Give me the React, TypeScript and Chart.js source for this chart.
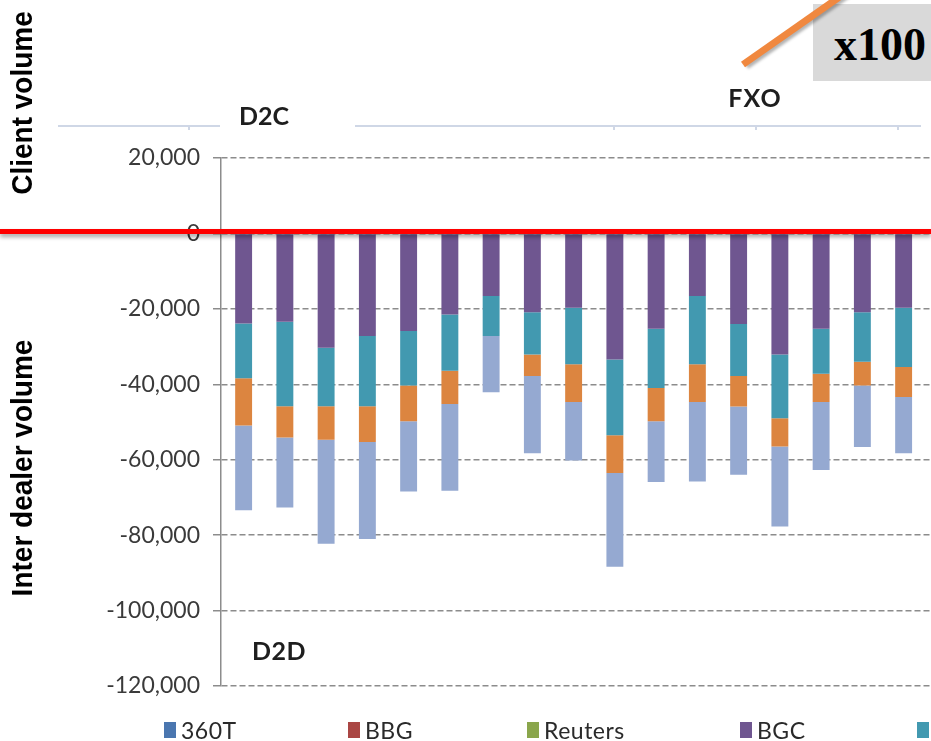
import React, { useEffect, useRef } from "react";
import { Chart, registerables } from "chart.js";

Chart.register(...registerables);

// ---- data ----
const categories = ["1", "2", "3", "4", "5", "6", "7", "8", "9", "10", "11", "12", "13", "14", "15", "16", "17", "18"];
const seriesNames = ["360T", "BBG", "Reuters", "BGC", "ICAP", "Tradition", "Tullett"];
const d360T = [0, 0, 0, 0, 0, 0, 0, 0, 0, 0, 0, 0, 0, 0, 0, 0, 0, null];
const dBBG = [0, 0, 0, 0, 0, 0, 0, 0, 0, 0, 0, 0, 0, 0, 0, 0, 0, null];
const dReuters = [0, 0, 0, 0, 0, 0, 0, 0, 0, 0, 0, 0, 0, 0, 0, 0, 0, null];
const dBGC = [-23900, -23400, -30300, -27200, -25900, -21500, -16600, -20900, -19700, -33400, -25300, -16600, -24000, -32100, -25300, -20900, -19700, null];
const dICAP = [-14500, -22400, -15500, -18600, -14400, -14900, -10600, -11200, -15000, -20100, -15700, -18100, -13800, -16900, -11900, -13100, -15700, null];
const dTradition = [-12500, -8300, -8900, -9500, -9500, -8800, 0, -5700, -10000, -10000, -8800, -10000, -8100, -7500, -7500, -6300, -8000, null];
const dTullett = [-22500, -18600, -27600, -25700, -18600, -23000, -14900, -20500, -15500, -24900, -16100, -21100, -18100, -21200, -18000, -16300, -14900, null];
const seriesColors = ["#4A76AF", "#AA4644", "#8AA64C", "#6F5690", "#4299B0", "#DC8540", "#95A9D1"];
const yMin = -120000;
const yMax = 20000;
const yStep = 20000;

const W = 931;
const H = 741;
const CANVAS_W = 972;

const legendLeft = [164, 348, 527, 740, 917, 1110, 1300];

const shiftBars = {
  id: "shiftBars",
  afterLayout(chart: any) {
    const x = chart.scales.x;
    if (x) {
      x.left += 2;
      x.right += 2;
      x.configure();
    }
  },
};

export default function App() {
  const ref = useRef<HTMLCanvasElement | null>(null);

  useEffect(() => {
    const canvas = ref.current;
    if (!canvas) return;
    const allData = [d360T, dBBG, dReuters, dBGC, dICAP, dTradition, dTullett];
    const chart = new Chart(canvas, {
      type: "bar",
      data: {
        labels: categories,
        datasets: seriesNames.map((name, i) => ({
          label: name,
          data: allData[i] as any,
          backgroundColor: seriesColors[i],
          borderWidth: 0,
          categoryPercentage: 1,
          barPercentage: 0.41,
        })),
      },
      options: {
        responsive: false,
        animation: false,
        devicePixelRatio: 1,
        layout: { padding: { top: 158, bottom: H - 686, left: 0, right: CANVAS_W - 221 - 18 * 41.25 } },
        plugins: { legend: { display: false }, tooltip: { enabled: false } },
        scales: {
          x: { stacked: true, display: false },
          y: {
            stacked: true,
            min: yMin,
            max: yMax,
            afterFit: (scale: any) => {
              scale.width = 221;
            },
            ticks: {
              stepSize: yStep,
              padding: 13,
              color: "#3a3a3a",
              font: { family: "Lato", size: 23 },
              callback: (v: any) => Number(v).toLocaleString("en-US"),
            },
            grid: {
              color: "#8c8c8c",
              lineWidth: 1.5,
              tickLength: 8,
              tickColor: "#8c8c8c",
            },
            border: { display: true, color: "#8c8c8c", width: 1.5, dash: [6, 3] },
          },
        },
      },
      plugins: [shiftBars],
    });
    return () => chart.destroy();
  }, []);

  const boldLabel: React.CSSProperties = {
    position: "absolute",
    fontFamily: "Lato, sans-serif",
    fontWeight: 700,
    fontSize: 25,
    color: "#1e1e1e",
    transform: "translate(-50%, -50%)",
    whiteSpace: "nowrap",
    lineHeight: 1,
  };
  const sideTitle: React.CSSProperties = {
    position: "absolute",
    fontFamily: "'Liberation Sans', Arial, sans-serif",
    fontWeight: 700,
    fontSize: 28,
    color: "#000",
    transform: "translate(-50%, -50%) rotate(-90deg) scaleY(1.08)",
    whiteSpace: "nowrap",
    lineHeight: 1,
  };

  return (
    <div
      style={{
        position: "fixed",
        left: 0,
        top: 0,
        width: W,
        height: H,
        overflow: "hidden",
        background: "#fff",
      }}
    >
      <canvas ref={ref} width={CANVAS_W} height={H} style={{ position: "absolute", left: 0, top: 0, display: "block" }} />

      {/* top group axis line */}
      <div style={{ position: "absolute", left: 58, top: 125, width: 162, height: 2, background: "#cfd7e6" }} />
      <div style={{ position: "absolute", left: 355, top: 125, width: 566, height: 2, background: "#cfd7e6" }} />
      {[188, 613, 755, 897].map((x) => (
        <div key={x} style={{ position: "absolute", left: x, top: 126, width: 2, height: 4, background: "#cfd7e6" }} />
      ))}

      <div style={{ ...boldLabel, left: 264, top: 115 }}>D2C</div>
      <div style={{ ...boldLabel, left: 755, top: 97, letterSpacing: 1 }}>FXO</div>
      <div style={{ ...boldLabel, left: 279, top: 650, letterSpacing: 0.5 }}>D2D</div>

      <div style={{ ...sideTitle, left: 22, top: 103 }}>Client volume</div>
      <div style={{ ...sideTitle, left: 22, top: 468 }}>Inter dealer volume</div>

      {/* red zero line */}
      <div
        style={{
          position: "absolute",
          left: 0,
          top: 228.5,
          width: W,
          height: 5,
          background: "#ff0000",
          boxShadow: "0 3px 4px rgba(0,0,0,0.35)",
        }}
      />

      {/* x100 box */}
      <div
        style={{
          position: "absolute",
          left: 813,
          top: 4,
          width: 140,
          height: 77,
          background: "#d9d9d9",
        }}
      />
      <div
        style={{
          position: "absolute",
          left: 880,
          top: 45,
          transform: "translate(-50%, -50%)",
          fontFamily: "'Liberation Serif', 'Times New Roman', serif",
          fontWeight: 700,
          fontSize: 46,
          color: "#000",
          lineHeight: 1,
          whiteSpace: "nowrap",
        }}
      >
        x100
      </div>
      {/* orange arrow line */}
      <div
        style={{
          position: "absolute",
          left: 743,
          top: 61,
          width: 135,
          height: 7,
          background: "#f0883f",
          transformOrigin: "0 50%",
          transform: "rotate(-35deg)",
          boxShadow: "2px 3px 3px rgba(0,0,0,0.3)",
        }}
      />

      {/* legend */}
      {seriesNames.map((name, i) => (
        <div
          key={name}
          style={{
            position: "absolute",
            left: legendLeft[i],
            top: 721,
            height: 18,
            display: "flex",
            alignItems: "center",
            whiteSpace: "nowrap",
          }}
        >
          <span style={{ display: "inline-block", width: 12, height: 16, background: seriesColors[i], marginRight: 5 }} />
          <span style={{ fontFamily: "Lato, sans-serif", fontSize: 23, letterSpacing: 0.5, color: "#2a2a2a", lineHeight: 1 }}>{name}</span>
        </div>
      ))}
    </div>
  );
}
